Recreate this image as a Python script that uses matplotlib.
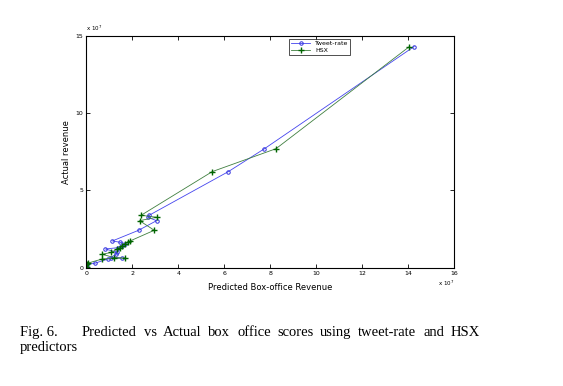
import matplotlib.pyplot as plt

# actual revenue (x 1e7), sorted descending, shared by both predictors
actual = [14.3, 7.7, 6.22, 3.4, 3.27, 3.05, 2.43, 1.74, 1.66, 1.57, 1.44, 1.31,
          1.22, 1.0, 0.88, 0.67, 0.64, 0.58, 0.3, 0.22, 0.05]
tweet_rate = [14.25, 7.75, 6.18, 2.74, 2.68, 3.06, 2.28, 1.14, 1.45, 1.71, 1.55, 1.40,
              0.84, 1.35, 1.30, 1.07, 1.54, 0.95, 0.38, 0.05, 0.02]
hsx = [14.05, 8.25, 5.48, 2.39, 3.07, 2.32, 2.96, 1.91, 1.81, 1.68, 1.55, 1.45,
       1.36, 1.09, 0.71, 1.19, 1.67, 0.71, 0.06, 0.02, 0.05]

xticks = [0, 2, 4, 6, 8, 10, 12, 14, 16]
yticks = [0, 5, 10, 15]

caption_words = ['Predicted', 'vs', 'Actual', 'box', 'office',
                 'scores', 'using', 'tweet-rate', 'and', 'HSX']

W, H = 563, 386
fig = plt.figure(figsize=(5.63, 3.86), dpi=100)
ax = fig.add_axes([0.153, 0.306, 0.654, 0.6015])

ax.plot(tweet_rate, actual, color='#4444ee', lw=0.6, marker='o', ms=2.5,
        mfc='none', mec='#3333dd', mew=0.7, label='Tweet-rate')
ax.plot(hsx, actual, color='#3f7f3f', lw=0.6, marker='+', ms=4,
        mec='#006400', mew=1.0, label='HSX')

ax.set_xlim(0, 16)
ax.set_ylim(0, 15)
ax.set_xticks(xticks)
ax.set_yticks(yticks)
ax.tick_params(direction='in', length=3, width=0.6, labelsize=4.5,
               top=True, right=True, pad=2)
for s in ax.spines.values():
    s.set_linewidth(0.8)

ax.set_xlabel('Predicted Box-office Revenue', fontsize=6, labelpad=5)
ax.set_ylabel('Actual revenue', fontsize=6, labelpad=3)
ax.text(0.0, 1.01, r'x 10$^7$', transform=ax.transAxes, fontsize=4, ha='left', va='bottom')
ax.text(1.0, -0.045, r'x 10$^7$', transform=ax.transAxes, fontsize=4, ha='right', va='top')

leg = ax.legend(loc='upper left', bbox_to_anchor=(0.552, 0.985), fontsize=4.5,
                frameon=True, fancybox=False, edgecolor='black', borderpad=0.3,
                handlelength=3, labelspacing=0.2, borderaxespad=0)
leg.get_frame().set_linewidth(0.6)

# justified caption: "Fig. 6." then words spread between x=82 and x=480 px
cap = dict(fontsize=10.5, family='Liberation Serif', ha='left', va='baseline')
fig.text(20 / W, 1 - 336 / H, 'Fig. 6.', **cap)
renderer = fig.canvas.get_renderer()
texts = [fig.text(0, 1 - 336 / H, w, **cap) for w in caption_words]
widths = [t.get_window_extent(renderer).width for t in texts]
gap = (480 - 82 - sum(widths)) / (len(texts) - 1)
x = 82
for t, wd in zip(texts, widths):
    t.set_x(x / W)
    x += wd + gap
fig.text(20 / W, 1 - 351 / H, 'predictors', **cap)

fig.savefig('out.png', dpi=100)
